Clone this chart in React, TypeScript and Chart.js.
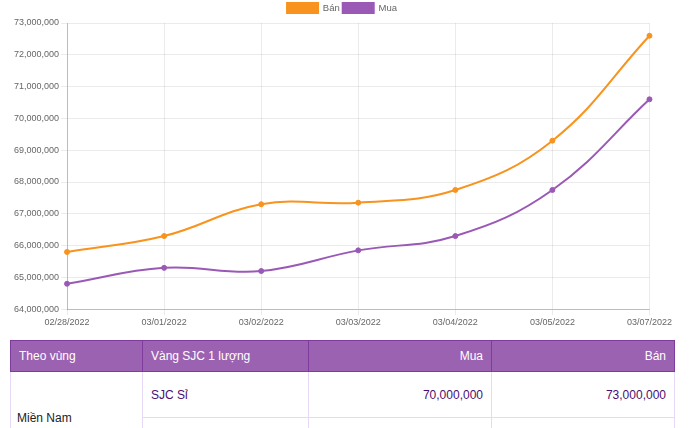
import React, { useEffect, useRef } from "react";
import { Chart, registerables } from "chart.js";

Chart.register(...registerables);

const categories = ["02/28/2022", "03/01/2022", "03/02/2022", "03/03/2022", "03/04/2022", "03/05/2022", "03/07/2022"];
const banValues = [65800000, 66300000, 67300000, 67350000, 67750000, 69300000, 72600000];
const muaValues = [64800000, 65300000, 65200000, 65850000, 66300000, 67750000, 70600000];
const seriesNames = ["Bán", "Mua"];
const yMin = 64000000;
const yMax = 73000000;
const yStep = 1000000;

const tableHeaders = ["Theo vùng", "Vàng SJC 1 lượng", "Mua", "Bán"];
const tableRegion = "Miền Nam";
const tableProduct = "SJC Sỉ";
const tableMua = "70,000,000";
const tableBan = "73,000,000";

const ORANGE = "#f7931e";
const PURPLE = "#9b59b6";
const FONT = "'Liberation Sans', Arial, Helvetica, sans-serif";

export default function App() {
  const ref = useRef<HTMLCanvasElement | null>(null);

  useEffect(() => {
    document.body.style.margin = "0";
    const ctx = ref.current!;
    const chart = new Chart(ctx, {
      type: "line",
      data: {
        labels: categories,
        datasets: [
          {
            label: seriesNames[0],
            data: banValues,
            borderColor: ORANGE,
            backgroundColor: ORANGE,
            pointBackgroundColor: ORANGE,
            pointBorderColor: ORANGE,
            borderWidth: 2,
            pointRadius: 2.5,
            pointBorderWidth: 1,
            tension: 0.4,
            fill: false,
          },
          {
            label: seriesNames[1],
            data: muaValues,
            borderColor: PURPLE,
            backgroundColor: PURPLE,
            pointBackgroundColor: PURPLE,
            pointBorderColor: PURPLE,
            borderWidth: 2,
            pointRadius: 2.5,
            pointBorderWidth: 1,
            tension: 0.4,
            fill: false,
          },
        ],
      },
      options: {
        animation: false,
        responsive: false,
        maintainAspectRatio: false,
        layout: { padding: { left: 2, right: 2, top: 0, bottom: 0 } },
        plugins: {
          legend: {
            position: "top",
            labels: {
              boxWidth: 31,
              boxHeight: 10,
              padding: 3,
              color: "#666",
              font: { size: 9.5, family: FONT },
            },
          },
          tooltip: { enabled: false },
        },
        scales: {
          x: {
            grid: { color: "rgba(0,0,0,0.08)", tickLength: 6 },
            border: { color: "rgba(0,0,0,0.2)" },
            ticks: { color: "#666", font: { size: 9, family: FONT }, padding: 2, maxRotation: 0, autoSkip: false },
          },
          y: {
            min: yMin,
            max: yMax,
            grid: { color: "rgba(0,0,0,0.08)", tickLength: 6 },
            border: { color: "rgba(0,0,0,0.2)" },
            ticks: {
              stepSize: yStep,
              color: "#666",
              font: { size: 9, family: FONT },
              padding: 2,
              callback: (v: any) => Number(v).toLocaleString("en-US"),
            },
          },
        },
      },
    });
    return () => chart.destroy();
  }, []);

  const thStyle: React.CSSProperties = {
    background: "#9b62b1",
    color: "#fff",
    fontWeight: "normal",
    border: "1px solid #7f3b9e",
    height: 30,
    padding: "0 8px",
    fontSize: 12,
  };
  const tdStyle: React.CSSProperties = {
    border: "1px solid #e6d9f7",
    height: 45,
    padding: "0 8px",
    fontSize: 12,
    color: "#4a0f6e",
  };

  return (
    <div style={{ position: "relative", width: 698, height: 428, overflow: "hidden", fontFamily: FONT, background: "#fff" }}>
      <div style={{ position: "absolute", left: 10, top: 0, width: 664, height: 330 }}>
        <canvas ref={ref} width={664} height={330} style={{ width: 664, height: 330, display: "block" }} />
      </div>
      <table
        style={{
          position: "absolute",
          left: 10,
          top: 340,
          width: 664,
          borderCollapse: "collapse",
          tableLayout: "fixed",
          fontFamily: FONT,
        }}
      >
        <colgroup>
          <col style={{ width: 132 }} />
          <col style={{ width: 166 }} />
          <col style={{ width: 183 }} />
          <col style={{ width: 183 }} />
        </colgroup>
        <thead>
          <tr>
            <th style={{ ...thStyle, textAlign: "left" }}>{tableHeaders[0]}</th>
            <th style={{ ...thStyle, textAlign: "left" }}>{tableHeaders[1]}</th>
            <th style={{ ...thStyle, textAlign: "right" }}>{tableHeaders[2]}</th>
            <th style={{ ...thStyle, textAlign: "right" }}>{tableHeaders[3]}</th>
          </tr>
        </thead>
        <tbody>
          <tr>
            <td rowSpan={2} style={{ ...tdStyle, color: "#222", padding: "0 6px" }}>{tableRegion}</td>
            <td style={tdStyle}>{tableProduct}</td>
            <td style={{ ...tdStyle, textAlign: "right" }}>{tableMua}</td>
            <td style={{ ...tdStyle, textAlign: "right" }}>{tableBan}</td>
          </tr>
          <tr>
            <td style={tdStyle}></td>
            <td style={tdStyle}></td>
            <td style={tdStyle}></td>
          </tr>
        </tbody>
      </table>
    </div>
  );
}
